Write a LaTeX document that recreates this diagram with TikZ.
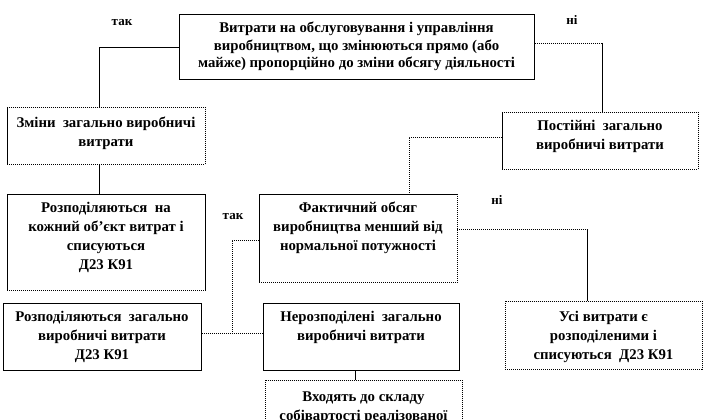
\documentclass[tikz,border=0pt]{standalone}
\usepackage{fontspec}
\setmainfont{Liberation Serif}
\begin{document}
\begin{tikzpicture}[x=1pt,y=-1pt,
  boxsolid/.style={draw=black,line width=0.9pt,inner sep=0pt,anchor=north west},
  boxdot/.style={draw=black,line width=0.9pt,dash pattern=on 1pt off 1pt,inner sep=0pt,anchor=north west},
  boxnone/.style={draw=none,inner sep=0pt,anchor=north west},
  txt/.style={font=\bfseries\fontsize{14.8}{19}\selectfont,align=center,inner sep=0pt},
  lbl/.style={font=\bfseries\fontsize{13}{15}\selectfont,inner sep=0pt},
  solidline/.style={draw=black,line width=0.9pt},
  dotline/.style={draw=black,line width=0.9pt,dash pattern=on 1pt off 1pt}]
\useasboundingbox (0,0) rectangle (705,420);
\fill[white] (0,0) rectangle (705,420);
\clip (0,0) rectangle (705,420);

% boxes
\node[boxsolid,minimum width=355pt,minimum height=65pt] (top) at (179,14) {};
\node[boxdot,minimum width=198pt,minimum height=57pt] (zm) at (7,107) {};
\node[boxnone,minimum width=198pt,minimum height=96pt] (r1) at (7,194) {};
\node[boxdot,minimum width=196pt,minimum height=57pt] (pos) at (502,112) {};
\node[boxnone,minimum width=198pt,minimum height=88pt] (fk) at (259,194) {};
\node[boxsolid,minimum width=198pt,minimum height=67pt] (r2) at (3,303) {};
\node[boxsolid,minimum width=196pt,minimum height=67pt] (ner) at (263,303) {};
\node[boxdot,minimum width=197pt,minimum height=60pt] (vx) at (265,380) {};
\node[boxdot,minimum width=197pt,minimum height=68pt] (usi) at (505,301) {};

% mixed edges
\draw[solidline] (zm.north west) -- (zm.south west);
\draw[solidline] (pos.north west) -- (pos.south west);
\draw[solidline] (r1.south west) -- (r1.north west) -- (r1.north east) -- (r1.south east);
\draw[dotline] (r1.south west) -- (r1.south east);
\draw[solidline] (fk.south west) -- (fk.north west) -- (fk.north east);
\draw[dotline] (fk.north east) -- (fk.south east) -- (fk.south west);

% texts
\node[txt,font=\bfseries\fontsize{14.8}{17.5}\selectfont] (ttop) at (356.5,46.5) {Витрати на обслуговування і управління\\виробництвом, що змінюються прямо (або\\майже) пропорційно до зміни обсягу діяльності};
\node[txt] (tzm) at (106,133.5) {Зміни\ \ загально виробничі\\витрати};
\node[txt] (tr1) at (106,237.5) {Розподіляються\ \ на\\кожний об’єкт витрат і\\списуються\\Д23 К91};
\node[txt] (tpos) at (600,136) {Постійні\ \ загально\\виробничі витрати};
\node[txt] (tfk) at (358,228) {Фактичний обсяг\\виробництва менший від\\нормальної потужності};
\node[txt] (tr2) at (102,337) {Розподіляються\ \ загально\\виробничі витрати\\Д23 К91};
\node[txt] (tner) at (361,327.5) {Нерозподілені\ \ загально\\виробничі витрати};
\node[txt] (tvx) at (363.5,408) {Входять до складу\\собівартості реалізованої};
\node[txt] (tusi) at (603.5,337) {Усі витрати є\\розподіленими і\\списуються\ \ Д23 К91};

% labels
\node[lbl] (l1) at (122,23) {так};
\node[lbl] (l2) at (572,20) {ні};
\node[lbl] (l3) at (233,217) {так};
\node[lbl] (l4) at (497,200) {ні};

% connectors
\coordinate (c1) at (99,47);
\draw[solidline] (c1 -| top.west) -- (c1) -- (c1 |- zm.north);
\coordinate (c2) at (602,43);
\draw[dotline] (c2 -| top.east) -- (c2);
\draw[solidline] (c2) -- (c2 |- pos.north);
\draw[solidline] (c1 |- zm.south) -- (c1 |- r1.north);
\coordinate (c4) at (409,137);
\draw[dotline] (c4 -| pos.west) -- (c4) -- (c4 |- fk.north);
\coordinate (c5) at (587,229);
\draw[dotline] (c5 -| fk.east) -- (c5);
\draw[solidline] (c5) -- (c5 |- usi.north);
\coordinate (c6) at (232,240);
\coordinate (c7) at (232,333);
\draw[dotline] (c6 -| fk.west) -- (c6) -- (c7);
\draw[dotline] (c7 -| r2.east) -- (c7 -| ner.west);
\coordinate (c8) at (355,375);
\draw[solidline] (c8 |- ner.south) -- (c8 |- vx.north);
\end{tikzpicture}
\end{document}
